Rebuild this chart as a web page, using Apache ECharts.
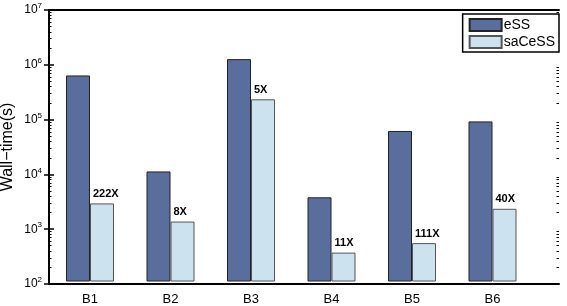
<!DOCTYPE html>
<html>
<head>
<meta charset="utf-8">
<script src="https://cdn.jsdelivr.net/npm/echarts@6/dist/echarts.min.js"></script>
<style>
  html, body { margin: 0; padding: 0; background: #fff; }
  #chart { width: 567px; height: 306px; }
</style>
</head>
<body>
<div id="chart"></div>
<script>
// 数据
var categories = ['B1', 'B2', 'B3', 'B4', 'B5', 'B6'];
var essTime = [6.2e5, 1.05e4, 1.24e6, 3.5e3, 5.86e4, 8.8e4];
var saCessTime = [2.7e3, 1.25e3, 2.25e5, 334, 500, 2150];
var speedup = ['222X', '8X', '5X', '11X', '111X', '40X'];
var yTicks = [1e2, 1e3, 1e4, 1e5, 1e6, 1e7];

var font = 'Liberation Sans, Arial, sans-serif';

// 对数次刻度 2..9
var minorTicks = [];
for (var d = 0; d < yTicks.length - 1; d++) {
  for (var k = 2; k <= 9; k++) {
    minorTicks.push(k * yTicks[d]);
  }
}

var myChart = echarts.init(document.getElementById('chart'));

// grid 0 只画外框和纵轴刻度，grid 1 画柱子和类目刻度
var xFrame = {
  type: 'value',
  gridIndex: 0,
  min: 0,
  max: 1,
  splitLine: { show: false },
  axisLabel: { show: false },
  axisTick: { show: false },
  axisLine: { lineStyle: { color: '#000', width: 2 } }
};

var xCat = {
  type: 'category',
  gridIndex: 1,
  data: categories,
  splitLine: { show: false },
  axisLine: { show: false },
  axisTick: {
    inside: true,
    alignWithLabel: true,
    length: 5,
    lineStyle: { color: '#000', width: 1.5 }
  }
};

var yFrame = {
  type: 'log',
  gridIndex: 0,
  logBase: 10,
  min: 1e2,
  max: 1e7,
  splitLine: { show: false },
  axisLine: { lineStyle: { color: '#000', width: 2 } },
  axisTick: {
    inside: true,
    length: 5,
    customValues: yTicks,
    lineStyle: { color: '#000', width: 1.5 }
  }
};

var yMinor = {
  type: 'log',
  gridIndex: 0,
  logBase: 10,
  min: 1e2,
  max: 1e7,
  splitLine: { show: false },
  axisLine: { show: false },
  axisLabel: { show: false },
  axisTick: {
    inside: true,
    length: 2.5,
    customValues: minorTicks,
    lineStyle: { color: '#000', width: 1 }
  }
};

var option = {
  animation: false,
  grid: [
    { left: 49, right: 8, top: 10, bottom: 22 },
    { left: 49.75, right: 34.25, top: 10, bottom: 22 }
  ],
  // 纵轴标题
  graphic: [{
    type: 'text',
    x: 8,
    y: 147,
    rotation: Math.PI / 2,
    style: {
      text: 'Wall−time(s)',
      fill: '#000',
      fontSize: 16,
      fontFamily: font,
      align: 'center',
      verticalAlign: 'middle'
    }
  }],
  legend: {
    data: ['eSS', 'saCeSS'],
    orient: 'vertical',
    right: 8,
    top: 14,
    itemWidth: 32,
    itemHeight: 12,
    itemGap: 3,
    padding: [4, 4, 3, 6],
    borderColor: '#000',
    borderWidth: 1.5,
    backgroundColor: '#fff',
    icon: 'rect',
    textStyle: {
      color: '#000',
      fontSize: 14,
      lineHeight: 13,
      fontFamily: font,
      padding: [0, 0, 0, -3]
    }
  },
  xAxis: [
    Object.assign({}, xFrame, { position: 'bottom' }),
    Object.assign({}, xFrame, { position: 'top' }),
    Object.assign({}, xCat, {
      position: 'bottom',
      axisLabel: {
        color: '#000',
        fontSize: 13,
        fontFamily: font,
        margin: 12
      }
    }),
    Object.assign({}, xCat, {
      position: 'top',
      axisLabel: { show: false }
    })
  ],
  yAxis: [
    Object.assign({}, yFrame, {
      position: 'left',
      axisLabel: {
        customValues: yTicks,
        color: '#000',
        margin: 7,
        fontFamily: font,
        fontSize: 12,
        formatter: function (v) {
          return '10{sup|' + Math.round(Math.log10(v)) + '}';
        },
        rich: {
          sup: { fontSize: 8, verticalAlign: 'top', padding: [0, 0, 8, 0], fontFamily: font, color: '#000' }
        }
      }
    }),
    Object.assign({}, yFrame, {
      position: 'right',
      axisLabel: { show: false }
    }),
    Object.assign({}, yMinor, { position: 'left' }),
    Object.assign({}, yMinor, { position: 'right' }),
    {
      type: 'log',
      gridIndex: 1,
      logBase: 10,
      min: 1e2,
      max: 1e7,
      show: false
    }
  ],
  series: [
    {
      name: 'eSS',
      type: 'bar',
      xAxisIndex: 2,
      yAxisIndex: 4,
      barWidth: 24,
      barGap: '0%',
      clip: true,
      itemStyle: { color: '#5a6e9e', borderColor: '#222', borderWidth: 1 },
      data: essTime
    },
    {
      name: 'saCeSS',
      type: 'bar',
      xAxisIndex: 2,
      yAxisIndex: 4,
      barWidth: 24,
      barGap: '0%',
      clip: true,
      itemStyle: { color: '#cde2ef', borderColor: '#555', borderWidth: 1 },
      label: {
        show: true,
        position: 'top',
        align: 'left',
        offset: [-9, 0],
        distance: 4,
        color: '#000',
        fontSize: 11,
        fontWeight: 'bold',
        fontFamily: font,
        formatter: function (p) { return speedup[p.dataIndex]; }
      },
      data: saCessTime
    }
  ]
};

myChart.setOption(option);
</script>
</body>
</html>
